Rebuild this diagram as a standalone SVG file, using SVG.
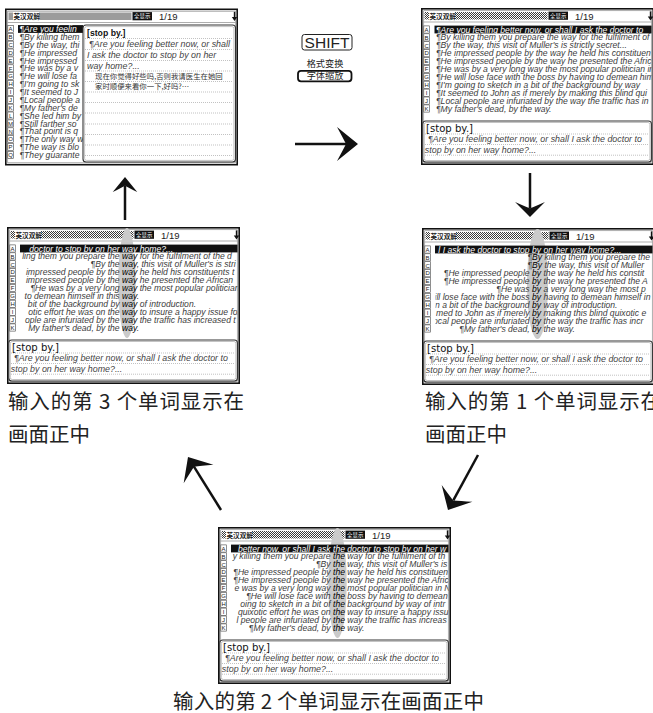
<svg xmlns="http://www.w3.org/2000/svg" xmlns:xlink="http://www.w3.org/1999/xlink" width="653" height="713" viewBox="0 0 653 713">
<style>
.fr{fill:#fff;stroke:#111;stroke-width:1.6}
.fi{fill:none;stroke:#8a8a8a;stroke-width:.7}
.hb{fill:url(#ht)}
.tg{fill:#111}
.hd{font-family:"Noto Sans CJK SC",sans-serif;font-size:6.6px;font-weight:bold;fill:#222}
.tt{font-family:"Noto Sans CJK SC",sans-serif;font-size:5.4px;fill:#fff;text-anchor:middle}
.nm{font-family:"Liberation Sans",Arial,sans-serif;font-size:9.5px;fill:#222}
.lb{fill:#fff;stroke:#444;stroke-width:.6}
.lt{font-family:"Liberation Sans",Arial,sans-serif;font-size:6px;fill:#222;text-anchor:middle}
.r{font-family:"Liberation Sans",Arial,sans-serif;font-style:italic;font-size:8.6px;fill:#3c3c3c}
.w{fill:#fff}
.e{text-anchor:end}
.kw{fill:#000}
.bar{fill:#111}
.ov{fill:#cacaca}
.pn{fill:#fff;stroke:#333;stroke-width:1.1}
.pi{fill:none;stroke:#aaa;stroke-width:.7}
.dl{stroke:#999;stroke-width:.6;stroke-dasharray:1 1;fill:none}
.sb{font-family:"DejaVu Sans",sans-serif;font-size:10.1px;fill:#111}
.sb1{font-family:"Liberation Sans",Arial,sans-serif;font-weight:bold;font-size:8.7px;fill:#111}
.pt{font-family:"Liberation Sans",Arial,sans-serif;font-style:italic;font-size:8.9px;fill:#444}
.cn{font-family:"Noto Sans CJK SC",sans-serif;font-size:7.4px;fill:#333}
.lbl{font-family:"Noto Sans CJK SC",sans-serif;font-size:20.5px;fill:#222}
.ar{stroke:#111;stroke-width:2.5;fill:none}
.ky{font-family:"Noto Sans CJK SC",sans-serif;font-size:9.2px;fill:#222;text-anchor:middle}
</style>
<defs>
<pattern id="ht" width="2" height="2" patternUnits="userSpaceOnUse"><rect width="2" height="2" fill="#fff"/><rect width="1" height="1" fill="#3a3a3a"/><rect x="1" y="1" width="1" height="1" fill="#3a3a3a"/></pattern>
<clipPath id="cl"><rect x="13.5" y="15" width="217" height="95"/></clipPath>
<g id="frame">
<rect class="fr" x="0.8" y="0.8" width="231.4" height="155.4"/>
<rect class="fi" x="2.7" y="2.7" width="227.6" height="151.6"/>
<rect class="hb" x="3.5" y="4" width="4.5" height="7.5"/>
<rect class="hb" x="34" y="4" width="92.5" height="7.5"/>
<rect class="tg" x="127.5" y="3.6" width="19.5" height="8.2"/>
<path d="M229.5,3.4V9" stroke="#111" stroke-width="1.4"/>
<path d="M226.8,8.6H232.2L229.5,12.6Z" fill="#111"/>
<path d="M2.7,14H230.3" stroke="#777" stroke-width=".6"/>
</g>
<g id="panel">
<rect class="pn" x="1.8" y="113" width="228.6" height="41" rx="3"/>
<rect class="pi" x="3.3" y="114.5" width="225.6" height="38" rx="2"/>
<path class="dl" d="M4,126H228M4,136.5H228M4,147.2H228"/>
</g>
<g id="b11">
<rect class="lb" x="2.8" y="17.9" width="5.6" height="7.2"/><rect class="lb" x="2.8" y="25.8" width="5.6" height="7.2"/><rect class="lb" x="2.8" y="33.7" width="5.6" height="7.2"/><rect class="lb" x="2.8" y="41.6" width="5.6" height="7.2"/><rect class="lb" x="2.8" y="49.5" width="5.6" height="7.2"/><rect class="lb" x="2.8" y="57.4" width="5.6" height="7.2"/><rect class="lb" x="2.8" y="65.3" width="5.6" height="7.2"/><rect class="lb" x="2.8" y="73.2" width="5.6" height="7.2"/><rect class="lb" x="2.8" y="81.1" width="5.6" height="7.2"/><rect class="lb" x="2.8" y="89" width="5.6" height="7.2"/><rect class="lb" x="2.8" y="96.9" width="5.6" height="7.2"/>
</g>
<g id="b17">
<rect class="lb" x="2.8" y="16.9" width="5.6" height="7"/><rect class="lb" x="2.8" y="24.8" width="5.6" height="7"/><rect class="lb" x="2.8" y="32.65" width="5.6" height="7"/><rect class="lb" x="2.8" y="40.5" width="5.6" height="7"/><rect class="lb" x="2.8" y="48.4" width="5.6" height="7"/><rect class="lb" x="2.8" y="56.3" width="5.6" height="7"/><rect class="lb" x="2.8" y="64.15" width="5.6" height="7"/><rect class="lb" x="2.8" y="72" width="5.6" height="7"/><rect class="lb" x="2.8" y="79.9" width="5.6" height="7"/><rect class="lb" x="2.8" y="87.8" width="5.6" height="7"/><rect class="lb" x="2.8" y="95.65" width="5.6" height="7"/><rect class="lb" x="2.8" y="103.5" width="5.6" height="7"/><rect class="lb" x="2.8" y="111.4" width="5.6" height="7"/><rect class="lb" x="2.8" y="119.3" width="5.6" height="7"/><rect class="lb" x="2.8" y="127.15" width="5.6" height="7"/><rect class="lb" x="2.8" y="135" width="5.6" height="7"/><rect class="lb" x="2.8" y="142.9" width="5.6" height="7"/>
</g>
<path id="ah" d="M0,0L-21,-17Q-15,-6 -12,0Q-15,6 -21,17Z" fill="#111"/>
</defs>
<rect width="653" height="713" fill="#fff"/>

<g id="screen-1" transform="translate(5,8.5)">
<use href="#frame"/>
<text class="hd" x="8.5" y="10.6">英汉双解</text>
<text class="tt" x="137.2" y="9.8">全显示</text>
<text class="nm" x="154" y="11.6">1/19</text>
<use href="#b17"/>
<text class="lt"><tspan x="5.6" y="22.6">A</tspan><tspan x="5.6" y="30.5">B</tspan><tspan x="5.6" y="38.35">C</tspan><tspan x="5.6" y="46.2">D</tspan><tspan x="5.6" y="54.1">E</tspan><tspan x="5.6" y="62">F</tspan><tspan x="5.6" y="69.85">G</tspan><tspan x="5.6" y="77.7">H</tspan><tspan x="5.6" y="85.6">I</tspan><tspan x="5.6" y="93.5">J</tspan><tspan x="5.6" y="101.35">K</tspan><tspan x="5.6" y="109.2">L</tspan><tspan x="5.6" y="117.1">M</tspan><tspan x="5.6" y="125">N</tspan><tspan x="5.6" y="132.85">O</tspan><tspan x="5.6" y="140.7">P</tspan><tspan x="5.6" y="148.6">Q</tspan></text>
<rect class="bar" x="13" y="16.6" width="65" height="7.8"/>
<text class="r w" x="14.5" y="23.5">¶Are you feelin</text>
<text class="r" x="14.5" y="31.4">¶By killing them</text>
<text class="r" x="14.5" y="39.25">¶By the way, thi</text>
<text class="r" x="14.5" y="47.1">¶He impressed</text>
<text class="r" x="14.5" y="55">¶He impressed</text>
<text class="r" x="14.5" y="62.9">¶He was by a v</text>
<text class="r" x="14.5" y="70.75">¶He will lose fa</text>
<text class="r" x="14.5" y="78.6">¶I'm going to sk</text>
<text class="r" x="14.5" y="86.5">¶It seemed to J</text>
<text class="r" x="14.5" y="94.4">¶Local people a</text>
<text class="r" x="14.5" y="102.25">¶My father's de</text>
<text class="r" x="14.5" y="110.1">¶She led him by</text>
<text class="r" x="14.5" y="118">¶Still farther so</text>
<text class="r" x="14.5" y="125.9">¶That point is q</text>
<text class="r" x="14.5" y="133.75">¶The only way w</text>
<text class="r" x="14.5" y="141.6">¶The way is blo</text>
<text class="r" x="14.5" y="149.5">¶They guarante</text>
<rect class="pn" x="78" y="16.5" width="152.5" height="137" rx="3"/>
<rect class="pi" x="79.6" y="18.1" width="149.3" height="133.8" rx="2"/>
<path class="dl" d="M80,30H228M80,41H228M80,52H228M80,62.5H228M80,73H228M80,83.5H228M80,94H228M80,104.5H228M80,115.5H228M80,126H228M80,136.5H228M80,147H228"/>
<text class="sb1" x="82" y="27.5">[stop by.]</text>
<text class="pt" x="84" y="38.5">¶Are you feeling better now, or shall</text>
<text class="pt" x="82" y="49.5">I ask the doctor to stop by on her</text>
<text class="pt" x="82" y="60">way home?...</text>
<text class="cn" x="90" y="70">现在你觉得好些吗,否则我请医生在她回</text>
<text class="cn" x="90" y="80.5">家时顺便来看你一下,好吗?…</text>
</g>

<g id="screen-3" transform="translate(421,8)">
<use href="#frame"/>
<text class="hd" x="8.5" y="10.6">英汉双解</text>
<text class="tt" x="137.2" y="9.8">全显示</text>
<text class="nm" x="154" y="11.6">1/19</text>
<use href="#b11"/>
<text class="lt"><tspan x="5.6" y="23.7">A</tspan><tspan x="5.6" y="31.6">B</tspan><tspan x="5.6" y="39.5">C</tspan><tspan x="5.6" y="47.4">D</tspan><tspan x="5.6" y="55.3">E</tspan><tspan x="5.6" y="63.2">F</tspan><tspan x="5.6" y="71.1">G</tspan><tspan x="5.6" y="79">H</tspan><tspan x="5.6" y="86.9">I</tspan><tspan x="5.6" y="94.8">J</tspan><tspan x="5.6" y="102.7">K</tspan></text>
<rect class="bar" x="13.5" y="17.6" width="217" height="7.8"/>
<g clip-path="url(#cl)">
<text class="r w" x="15" y="24.5">¶Are you feeling better now, or shall I ask the doctor to</text>
<text class="r" x="15" y="32.4">¶By killing them you prepare the way for the fulfilment of</text>
<text class="r" x="15" y="40.3">¶By the way, this visit of Muller's is strictly secret...</text>
<text class="r" x="15" y="48.2">¶He impressed people by the way he held his constituen</text>
<text class="r" x="15" y="56.1">¶He impressed people by the way he presented the Afric</text>
<text class="r" x="15" y="64">¶He was by a very long way the most popular politician in</text>
<text class="r" x="15" y="71.9">¶He will lose face with the boss by having to demean him</text>
<text class="r" x="15" y="79.8">¶I'm going to sketch in a bit of the background by way</text>
<text class="r" x="15" y="87.7">¶It seemed to John as if merely by making this blind qui</text>
<text class="r" x="15" y="95.6">¶Local people are infuriated by the way the traffic has in</text>
<text class="r" x="15" y="103.5">¶My father's dead, by the way.</text>
</g>
<use href="#panel"/>
<text class="sb" x="5" y="123.8">[stop by.]</text>
<text class="pt" x="7" y="134">¶Are you feeling better now, or shall I ask the doctor to</text>
<text class="pt" x="3.8" y="144.6">stop by on her way home?...</text>
</g>

<g id="screen-2" transform="translate(7,227)">
<use href="#frame"/>
<ellipse class="ov" cx="120" cy="56" rx="8.8" ry="55"/>
<text class="hd" x="8.5" y="10.6">英汉双解</text>
<text class="tt" x="137.2" y="9.8">全显示</text>
<text class="nm" x="154" y="11.6">1/19</text>
<use href="#b11"/>
<text class="lt"><tspan x="5.6" y="23.7">A</tspan><tspan x="5.6" y="31.6">B</tspan><tspan x="5.6" y="39.5">C</tspan><tspan x="5.6" y="47.4">D</tspan><tspan x="5.6" y="55.3">E</tspan><tspan x="5.6" y="63.2">F</tspan><tspan x="5.6" y="71.1">G</tspan><tspan x="5.6" y="79">H</tspan><tspan x="5.6" y="86.9">I</tspan><tspan x="5.6" y="94.8">J</tspan><tspan x="5.6" y="102.7">K</tspan></text>
<rect class="bar" x="13" y="17.6" width="217.5" height="7.8"/>
<g clip-path="url(#cl)">
<text class="r w e" x="112.6" y="24.5">doctor to stop by on her</text><text class="r w" x="115" y="24.5">way home?...</text>
<text class="r e" x="112.6" y="32.4">ling them you prepare the</text><text class="r" x="115" y="32.4"><tspan class="kw">way</tspan> for the fulfilment of the d</text>
<text class="r e" x="112.6" y="40.3">¶By the</text><text class="r" x="115" y="40.3"><tspan class="kw">way</tspan>, this visit of Muller's is stri</text>
<text class="r e" x="112.6" y="48.2">impressed people by the</text><text class="r" x="115" y="48.2"><tspan class="kw">way</tspan> he held his constituents t</text>
<text class="r e" x="112.6" y="56.1">impressed people by the</text><text class="r" x="115" y="56.1"><tspan class="kw">way</tspan> he presented the African</text>
<text class="r e" x="112.6" y="64">¶He was by a very long</text><text class="r" x="115" y="64"><tspan class="kw">way</tspan> the most popular politician</text>
<text class="r e" x="112.6" y="71.9">to demean himself in this</text><text class="r" x="115" y="71.9"><tspan class="kw">way</tspan>.</text>
<text class="r e" x="112.6" y="79.8">bit of the background by</text><text class="r" x="115" y="79.8"><tspan class="kw">way</tspan> of introduction.</text>
<text class="r e" x="112.6" y="87.7">otic effort he was on the</text><text class="r" x="115" y="87.7"><tspan class="kw">way</tspan> to insure a happy issue for</text>
<text class="r e" x="112.6" y="95.6">ople are infuriated by the</text><text class="r" x="115" y="95.6"><tspan class="kw">way</tspan> the traffic has increased t</text>
<text class="r e" x="112.6" y="103.5">My father's dead, by the</text><text class="r" x="115" y="103.5"><tspan class="kw">way</tspan>.</text>
</g>
<use href="#panel"/>
<text class="sb" x="5" y="123.8">[stop by.]</text>
<text class="pt" x="7" y="134">¶Are you feeling better now, or shall I ask the doctor to</text>
<text class="pt" x="3.8" y="144.6">stop by on her way home?...</text>
</g>

<g id="screen-4" transform="translate(422,228)">
<use href="#frame"/>
<ellipse class="ov" cx="115.5" cy="56" rx="10.5" ry="55"/>
<text class="hd" x="8.5" y="10.6">英汉双解</text>
<text class="tt" x="137.2" y="9.8">全显示</text>
<text class="nm" x="154" y="11.6">1/19</text>
<use href="#b11"/>
<text class="lt"><tspan x="5.6" y="23.7">A</tspan><tspan x="5.6" y="31.6">B</tspan><tspan x="5.6" y="39.5">C</tspan><tspan x="5.6" y="47.4">D</tspan><tspan x="5.6" y="55.3">E</tspan><tspan x="5.6" y="63.2">F</tspan><tspan x="5.6" y="71.1">G</tspan><tspan x="5.6" y="79">H</tspan><tspan x="5.6" y="86.9">I</tspan><tspan x="5.6" y="94.8">J</tspan><tspan x="5.6" y="102.7">K</tspan></text>
<rect class="bar" x="13" y="17.6" width="217.5" height="7.8"/>
<g clip-path="url(#cl)">
<text class="r w e" x="107.6" y="24.5">l I ask the doctor to stop</text><text class="r w" x="110" y="24.5">by on her way home?...</text>
<text class="r e" x="110" y="32.4">¶</text><text class="r" x="110" y="32.4"><tspan class="kw">By</tspan> killing them you prepare the</text>
<text class="r e" x="110" y="40.3">¶</text><text class="r" x="110" y="40.3"><tspan class="kw">By</tspan> the way, this visit of Muller</text>
<text class="r e" x="107.6" y="48.2">¶He impressed people</text><text class="r" x="110" y="48.2"><tspan class="kw">by</tspan> the way he held his constit</text>
<text class="r e" x="107.6" y="56.1">¶He impressed people</text><text class="r" x="110" y="56.1"><tspan class="kw">by</tspan> the way he presented the A</text>
<text class="r e" x="107.6" y="64">¶He was</text><text class="r" x="110" y="64"><tspan class="kw">by</tspan> a very long way the most p</text>
<text class="r e" x="107.6" y="71.9">ill lose face with the boss</text><text class="r" x="110" y="71.9"><tspan class="kw">by</tspan> having to demean himself in</text>
<text class="r e" x="107.6" y="79.8">n a bit of the background</text><text class="r" x="110" y="79.8"><tspan class="kw">by</tspan> way of introduction.</text>
<text class="r e" x="107.6" y="87.7">med to John as if merely</text><text class="r" x="110" y="87.7"><tspan class="kw">by</tspan> making this blind quixotic e</text>
<text class="r e" x="107.6" y="95.6">ocal people are infuriated</text><text class="r" x="110" y="95.6"><tspan class="kw">by</tspan> the way the traffic has incr</text>
<text class="r e" x="107.6" y="103.5">¶My father's dead,</text><text class="r" x="110" y="103.5"><tspan class="kw">by</tspan> the way.</text>
</g>
<use href="#panel"/>
<text class="sb" x="5" y="123.8">[stop by.]</text>
<text class="pt" x="7" y="134">¶Are you feeling better now, or shall I ask the doctor to</text>
<text class="pt" x="3.8" y="144.6">stop by on her way home?...</text>
</g>

<g id="screen-5" transform="translate(218,527)">
<use href="#frame"/>
<ellipse class="ov" cx="119.5" cy="56" rx="9.2" ry="55"/>
<text class="hd" x="8.5" y="10.6">英汉双解</text>
<text class="tt" x="137.2" y="9.8">全显示</text>
<text class="nm" x="154" y="11.6">1/19</text>
<use href="#b11"/>
<text class="lt"><tspan x="5.6" y="23.7">A</tspan><tspan x="5.6" y="31.6">B</tspan><tspan x="5.6" y="39.5">C</tspan><tspan x="5.6" y="47.4">D</tspan><tspan x="5.6" y="55.3">E</tspan><tspan x="5.6" y="63.2">F</tspan><tspan x="5.6" y="71.1">G</tspan><tspan x="5.6" y="79">H</tspan><tspan x="5.6" y="86.9">I</tspan><tspan x="5.6" y="94.8">J</tspan><tspan x="5.6" y="102.7">K</tspan></text>
<rect class="bar" x="13" y="17.6" width="217.5" height="7.8"/>
<g clip-path="url(#cl)">
<text class="r w e" x="112.6" y="24.5">better now, or shall I ask</text><text class="r w" x="115" y="24.5">the doctor to stop by on her w</text>
<text class="r e" x="112.6" y="32.4">y killing them you prepare</text><text class="r" x="115" y="32.4"><tspan class="kw">the</tspan> way for the fulfilment of th</text>
<text class="r e" x="112.6" y="40.3">¶By</text><text class="r" x="115" y="40.3"><tspan class="kw">the</tspan> way, this visit of Muller's is</text>
<text class="r e" x="112.6" y="48.2">¶He impressed people by</text><text class="r" x="115" y="48.2"><tspan class="kw">the</tspan> way he held his constituen</text>
<text class="r e" x="112.6" y="56.1">¶He impressed people by</text><text class="r" x="115" y="56.1"><tspan class="kw">the</tspan> way he presented the Afric</text>
<text class="r e" x="112.6" y="64">e was by a very long way</text><text class="r" x="115" y="64"><tspan class="kw">the</tspan> most popular politician in N</text>
<text class="r e" x="112.6" y="71.9">¶He will lose face with</text><text class="r" x="115" y="71.9"><tspan class="kw">the</tspan> boss by having to demean</text>
<text class="r e" x="112.6" y="79.8">oing to sketch in a bit of</text><text class="r" x="115" y="79.8"><tspan class="kw">the</tspan> background by way of intr</text>
<text class="r e" x="112.6" y="87.7">quixotic effort he was on</text><text class="r" x="115" y="87.7"><tspan class="kw">the</tspan> way to insure a happy issu</text>
<text class="r e" x="112.6" y="95.6">l people are infuriated by</text><text class="r" x="115" y="95.6"><tspan class="kw">the</tspan> way the traffic has increas</text>
<text class="r e" x="112.6" y="103.5">¶My father's dead, by</text><text class="r" x="115" y="103.5"><tspan class="kw">the</tspan> way.</text>
</g>
<use href="#panel"/>
<text class="sb" x="5" y="123.8">[stop by.]</text>
<text class="pt" x="7" y="134">¶Are you feeling better now, or shall I ask the doctor to</text>
<text class="pt" x="3.8" y="144.6">stop by on her way home?...</text>
</g>

<g id="shift-key">
<rect x="302" y="34.5" width="50" height="15.5" rx="2.5" fill="#fff" stroke="#222" stroke-width="1"/>
<text x="327" y="47.9" text-anchor="middle" font-family="Liberation Sans, Arial, sans-serif" font-size="15.5" fill="#222">SHIFT</text>
<text class="ky" x="325" y="67">格式变换</text>
<rect x="298" y="70.8" width="53.5" height="10.5" rx="3" fill="#fff" stroke="#111" stroke-width="1.8"/>
<text class="ky" x="325" y="79.4">字体缩放</text>
</g>

<g id="labels">
<text class="lbl" x="8" y="408.5" textLength="236">输入的第 3 个单词显示在</text>
<text class="lbl" x="8" y="441.5">画面正中</text>
<text class="lbl" x="425" y="408.5" textLength="236">输入的第 1 个单词显示在</text>
<text class="lbl" x="425" y="441.5">画面正中</text>
<text class="lbl" x="173" y="708.5" textLength="311">输入的第 2 个单词显示在画面正中</text>
</g>

<g id="connectors">
<path class="ar" d="M295,144H348"/>
<use href="#ah" transform="translate(358,144)"/>
<path class="ar" d="M125,220V186"/>
<use href="#ah" transform="translate(125,177) rotate(-90) scale(0.72)"/>
<path class="ar" d="M530,173V208"/>
<use href="#ah" transform="translate(530,217) rotate(90) scale(0.72,0.88)"/>
<path class="ar" d="M478,455L453.3,500.3"/>
<use href="#ah" transform="translate(448,510) rotate(118.6) scale(0.9,1.03)"/>
<path class="ar" d="M221,510L193.8,466.3"/>
<use href="#ah" transform="translate(188,457) rotate(-121.9) scale(0.95,1.03)"/>
</g>
</svg>
